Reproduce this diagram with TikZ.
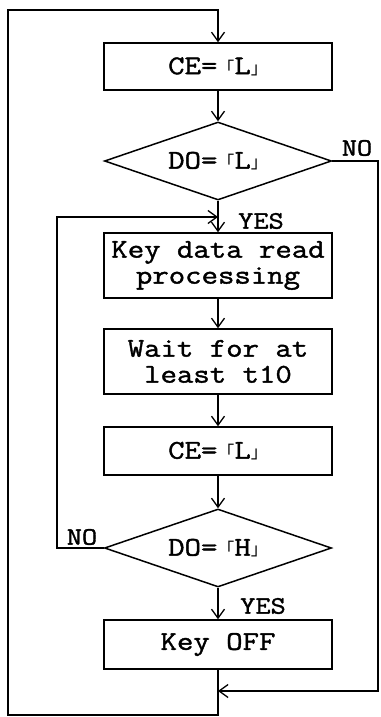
\documentclass[tikz,border=0pt]{standalone}
\usepackage{fontspec}
\newfontfamily\courfont{Latin Modern Mono}[FakeStretch=1.18,FakeBold=1.5]
\newfontfamily\cjkfont{Noto Sans CJK JP}
\usetikzlibrary{shapes.geometric,arrows.meta}
\newcommand\jlq{{\cjkfont\fontsize{17pt}{17pt}\selectfont 「}}
\newcommand\jrq{{\cjkfont\fontsize{17pt}{17pt}\selectfont 」}}
\begin{document}
\begin{tikzpicture}[x=1pt,y=-1pt,
  every node/.style={font=\courfont\fontsize{27pt}{26pt}\selectfont},
  box/.style={draw,line width=1.5pt,rectangle,minimum width=228pt,align=center,inner sep=0pt},
  dia/.style={draw,line width=1.5pt,diamond,minimum width=227pt,minimum height=78pt,aspect=2.9,inner sep=0pt},
  lbl/.style={font=\courfont\fontsize{25pt}{25pt}\selectfont},
  arr/.style={line width=1.3pt,-{Straight Barb[length=9pt,width=13pt,line width=1.3pt]}}]
\useasboundingbox (0,0) rectangle (380,717);
\node[box,minimum height=47pt] (b1) at (218,66.5) {CE=\jlq L\jrq};
\node[dia] (d1) at (218,161) {DO=\jlq L\jrq};
\node[box,minimum height=65pt] (b2) at (218,265.5) {Key data read\\processing};
\node[box,minimum height=65pt] (b3) at (218,361.5) {Wait for at\\least t10};
\node[box,minimum height=48pt] (b4) at (218,451) {CE=\jlq L\jrq};
\node[dia] (d2) at (218,548) {DO=\jlq H\jrq};
\node[box,minimum height=49pt] (b5) at (218,644.5) {Key OFF};
\coordinate (bl) at (8,715);
\coordinate (tl) at (8,10);
\coordinate (m) at (218,691);
\coordinate (rb) at (378,691);
\coordinate (il) at (57,217);
\coordinate (j) at (218,217);
\draw[arr] (b1) -- (d1);
\draw[arr] (d1) -- (b2);
\draw[arr] (b2) -- (b3);
\draw[arr] (b3) -- (b4);
\draw[arr] (b4) -- (d2);
\draw[arr] (d2) -- (b5);
\draw[arr] (b5.south) |- (bl) -- (tl) -| (b1.north);
\draw[arr] (d1.east) -| (rb) -- (m);
\draw[arr] (d2.west) -| (il) -- (j);
\node[lbl] (no1) at (357,148) {NO};
\node[lbl] (yes1) at (261,221) {YES};
\node[lbl] (no2) at (82,537) {NO};
\node[lbl] (yes2) at (263,606) {YES};
\end{tikzpicture}
\end{document}
